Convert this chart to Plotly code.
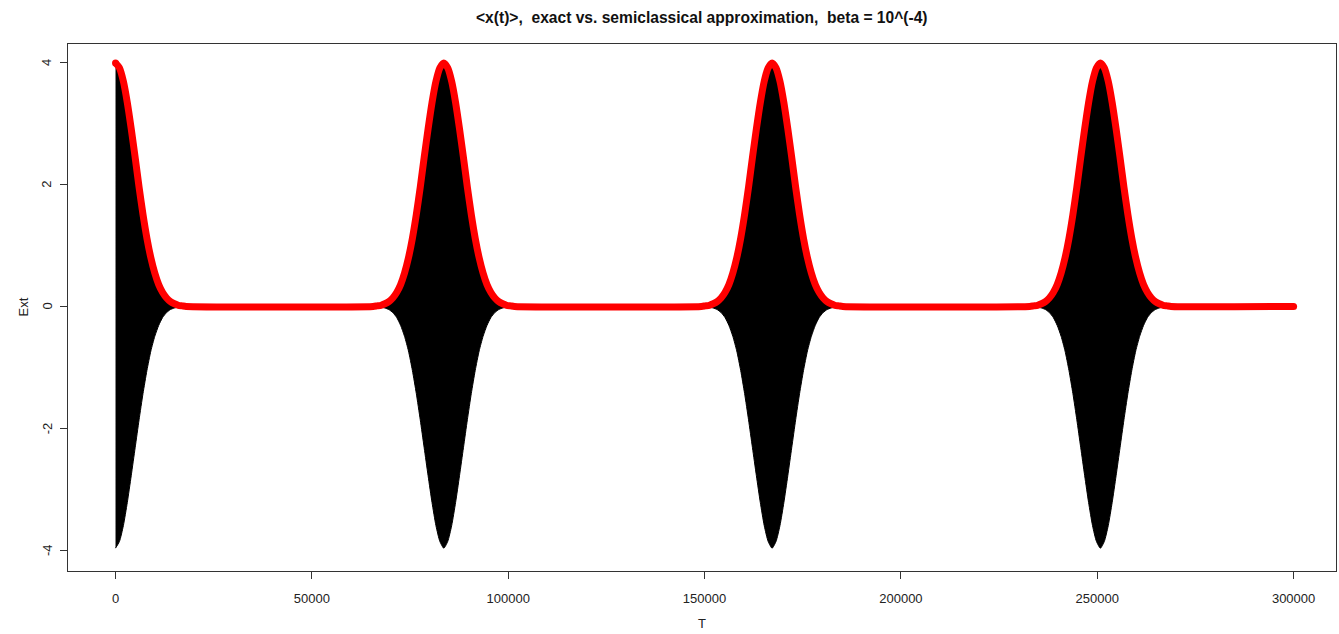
import plotly.graph_objects as go

# ---- data ----
# revival peak positions (T)
PEAKS_T = [0, 83600, 167200, 250800]
T_END = 300000
# one revival profile: offset from peak (in T), envelope amplitude
OFFSET_T = [0, 1000, 2000, 3000, 4000, 5000, 6000, 7000, 8000, 9000,
            10000, 11000, 12000, 13000, 14000, 15000, 16000, 17000, 18000]
UPPER_AMP = [4.00, 3.92, 3.70, 3.35, 2.92, 2.45, 1.96, 1.51, 1.12, 0.80,
             0.55, 0.36, 0.23, 0.14, 0.08, 0.045, 0.02, 0.01, 0.0]
LOWER_AMP = [-3.97, -3.86, -3.60, -3.22, -2.78, -2.32, -1.86, -1.43, -1.05, -0.73,
             -0.49, -0.31, -0.18, -0.10, -0.05, -0.025, -0.01, 0.0, 0.0]

X_TICKS = [0, 50000, 100000, 150000, 200000, 250000, 300000]
Y_TICKS = [-4, -2, 0, 2, 4]
TITLE = "&lt;x(t)&gt;,\u00a0 exact vs. semiclassical approximation,\u00a0 beta = 10^(-4)"

fig = go.Figure()

# exact solution: densely oscillating signal, drawn as its filled band
red_pts = {}
for c in PEAKS_T:
    xs_up, ys_up, xs_lo, ys_lo = [], [], [], []
    for o, u, l in zip(reversed(OFFSET_T), reversed(UPPER_AMP), reversed(LOWER_AMP)):
        if o == 0:
            continue
        if c - o >= 0:
            xs_up.append(c - o); ys_up.append(u)
            xs_lo.append(c - o); ys_lo.append(l)
    for o, u, l in zip(OFFSET_T, UPPER_AMP, LOWER_AMP):
        if c + o <= T_END:
            xs_up.append(c + o); ys_up.append(u)
            xs_lo.append(c + o); ys_lo.append(l)
    for x, y in zip(xs_up, ys_up):
        red_pts[x] = y
    fig.add_trace(go.Scatter(
        x=xs_up + xs_lo[::-1], y=ys_up + ys_lo[::-1],
        mode="lines", fill="toself", fillcolor="#000000",
        line=dict(color="#000000", width=1, shape="spline", smoothing=0.6),
        hoverinfo="skip", showlegend=False))

red_pts.setdefault(T_END, 0.0)
rx = sorted(red_pts)
ry = [red_pts[x] for x in rx]

# semiclassical approximation (envelope)
fig.add_trace(go.Scatter(
    x=rx, y=ry, mode="lines",
    line=dict(color="#FF0000", width=7, shape="spline", smoothing=0.6),
    hoverinfo="skip", showlegend=False))
fig.add_trace(go.Scatter(
    x=[rx[0], rx[-1]], y=[ry[0], ry[-1]], mode="markers",
    marker=dict(color="#FF0000", size=7),
    hoverinfo="skip", showlegend=False))

font = dict(family="Liberation Sans, Arial, sans-serif", size=13, color="#222222")

annotations = [
    dict(text="<b>" + TITLE + "</b>", xref="paper", yref="paper",
         x=0.5, y=1, yshift=27, showarrow=False,
         xanchor="center", yanchor="middle",
         font=dict(family="Liberation Sans, Arial, sans-serif", size=15.6, color="#111111")),
    dict(text="T", xref="paper", yref="paper", x=0.5, y=0, yshift=-52,
         showarrow=False, xanchor="center", yanchor="middle", font=font),
    dict(text="Ext", xref="paper", yref="paper", x=0, y=0.5, xshift=-45,
         textangle=-90, showarrow=False, xanchor="center", yanchor="middle",
         font=font),
]
# y tick labels, rotated parallel to the axis as in base R
for v in Y_TICKS:
    annotations.append(dict(text=str(v), xref="paper", yref="y", x=0, y=v,
                            xshift=-21, textangle=-90, showarrow=False,
                            xanchor="center", yanchor="middle", font=font))

fig.update_layout(
    width=1339, height=634,
    margin=dict(l=68, r=3, t=44, b=63),
    paper_bgcolor="white", plot_bgcolor="white",
    font=font,
    showlegend=False,
    xaxis=dict(range=[-12100, 310800], tickvals=X_TICKS,
               ticktext=[str(v) for v in X_TICKS],
               showgrid=False, zeroline=False,
               showline=True, mirror=True, linecolor="#333333", linewidth=1,
               ticks="outside", ticklen=7, tickcolor="#333333",
               ticklabelstandoff=8, tickfont=font),
    yaxis=dict(range=[-4.345, 4.312], tickvals=Y_TICKS,
               showticklabels=False,
               showgrid=False, zeroline=False,
               showline=True, mirror=True, linecolor="#333333", linewidth=1,
               ticks="outside", ticklen=7, tickcolor="#333333"),
    annotations=annotations,
)

fig.write_html("out.html", config={"displayModeBar": False},
               post_script="document.body.style.margin='0';document.body.style.overflow='hidden';")
